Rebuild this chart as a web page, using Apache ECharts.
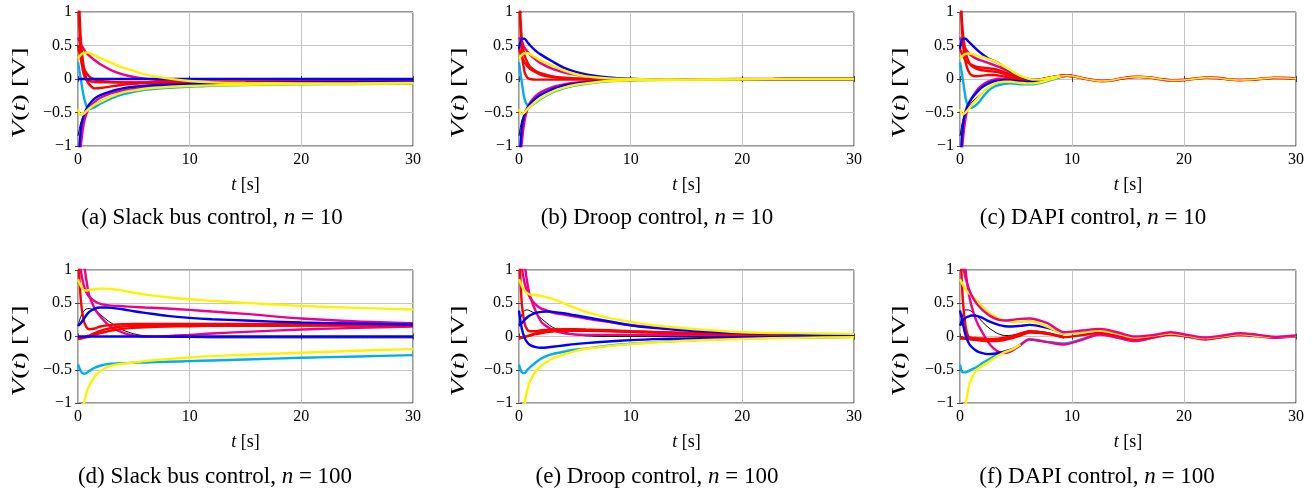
<!DOCTYPE html>
<html><head><meta charset="utf-8">
<script src="https://cdn.jsdelivr.net/npm/echarts@6.0.0/dist/echarts.min.js"></script>
<style>html,body{margin:0;padding:0;background:#fff}#c{width:1313px;height:488px}</style>
</head><body><div id="c"></div>
<script>
// ---------- DATA ----------
const X_TICKS = [0, 10, 20, 30];
const Y_TICKS = [-1, -0.5, 0, 0.5, 1];

// (a) Slack bus control, n = 10
const T_A = [0,0.25,0.5,0.75,1,1.5,2,3,4,5,6,8,10,12,15,20,25,30];
const A_BLUE_FLAT = [0,0,0,0,0,0,0,0,0,0,0,0,0,0,0,0,0,0];
const A_RED_1 = [1.6,0.6,0.2,0.0,-0.08,-0.14,-0.135,-0.11,-0.085,-0.07,-0.06,-0.055,-0.05,-0.048,-0.045,-0.04,-0.035,-0.03];
const A_RED_2 = [1.3,0.35,0.08,-0.01,-0.03,-0.045,-0.05,-0.05,-0.05,-0.05,-0.05,-0.048,-0.045,-0.042,-0.04,-0.035,-0.03,-0.025];
const A_RED_3 = [0.5,0.3,0.17,0.09,0.04,-0.01,-0.03,-0.045,-0.05,-0.05,-0.05,-0.048,-0.045,-0.042,-0.04,-0.035,-0.03,-0.025];
const A_MAG_1 = [0.62,0.52,0.45,0.39,0.35,0.28,0.22,0.13,0.07,0.03,0.005,-0.025,-0.04,-0.05,-0.055,-0.055,-0.05,-0.045];
const A_YEL_1 = [0.31,0.36,0.39,0.395,0.39,0.35,0.31,0.24,0.17,0.12,0.07,0.01,-0.03,-0.05,-0.06,-0.065,-0.065,-0.06];
const A_CYAN = [0.25,0.0,-0.25,-0.4,-0.45,-0.42,-0.37,-0.29,-0.23,-0.19,-0.16,-0.13,-0.115,-0.1,-0.09,-0.08,-0.075,-0.07];
const A_YEL_2 = [-0.45,-0.54,-0.52,-0.48,-0.44,-0.38,-0.34,-0.26,-0.2,-0.17,-0.145,-0.12,-0.105,-0.095,-0.085,-0.075,-0.07,-0.065];
const A_BLACK = [-0.85,-0.65,-0.55,-0.49,-0.45,-0.38,-0.33,-0.26,-0.2,-0.165,-0.14,-0.115,-0.1,-0.09,-0.08,-0.07,-0.065,-0.06];
const A_BLUE_2 = [-1.4,-0.75,-0.55,-0.45,-0.38,-0.29,-0.24,-0.18,-0.14,-0.115,-0.1,-0.085,-0.075,-0.068,-0.06,-0.05,-0.045,-0.04];
const A_MAG_2 = [-1.5,-1.0,-0.68,-0.52,-0.43,-0.34,-0.28,-0.21,-0.175,-0.15,-0.13,-0.11,-0.095,-0.085,-0.075,-0.065,-0.06,-0.055];

// (b) Droop control, n = 10
const T_B = [0,0.25,0.5,0.75,1,1.5,2,3,4,5,6,8,10,12,15,20,25,30];
const B_RED_1 = [1.4,0.4,0.1,0.02,0.0,-0.01,-0.01,-0.01,-0.01,-0.01,-0.01,-0.01,-0.01,-0.01,-0.005,0,0,0];
const B_RED_2 = [1.3,0.6,0.35,0.25,0.18,0.12,0.085,0.04,0.02,0.01,0.0,-0.005,-0.01,-0.01,-0.01,-0.005,0,0];
const B_RED_3 = [0.45,0.33,0.25,0.19,0.15,0.1,0.06,0.03,0.015,0.005,0.0,-0.005,-0.01,-0.01,-0.01,-0.005,0,0];
const B_MAG_1 = [0.62,0.55,0.47,0.41,0.36,0.29,0.23,0.15,0.1,0.065,0.04,0.01,0.0,-0.005,-0.01,-0.005,0,0];
const B_BLUE_1 = [0.45,0.6,0.6,0.55,0.5,0.42,0.36,0.26,0.17,0.11,0.07,0.025,0.005,-0.005,-0.01,-0.005,0,0];
const B_YEL_1 = [0.3,0.36,0.385,0.385,0.37,0.32,0.27,0.2,0.13,0.075,0.04,0.01,0.0,-0.005,-0.01,-0.005,0,0];
const B_CYAN = [0.25,-0.05,-0.3,-0.39,-0.4,-0.35,-0.29,-0.2,-0.14,-0.1,-0.07,-0.035,-0.02,-0.015,-0.01,-0.005,0,0];
const B_YEL_2 = [-0.45,-0.53,-0.5,-0.45,-0.41,-0.34,-0.28,-0.19,-0.13,-0.09,-0.065,-0.03,-0.02,-0.015,-0.01,-0.005,0,0];
const B_BLACK = [-0.85,-0.62,-0.52,-0.46,-0.42,-0.35,-0.29,-0.2,-0.14,-0.1,-0.07,-0.035,-0.02,-0.015,-0.01,-0.005,0,0];
const B_BLUE_2 = [-1.4,-0.72,-0.52,-0.43,-0.37,-0.29,-0.23,-0.15,-0.1,-0.07,-0.05,-0.025,-0.015,-0.01,-0.01,-0.005,0,0];
const B_MAG_2 = [-1.5,-0.95,-0.62,-0.45,-0.35,-0.25,-0.19,-0.12,-0.08,-0.055,-0.04,-0.02,-0.015,-0.01,-0.01,-0.005,0,0];

// (c) DAPI control, n = 10  (individual transients, then common tail)
const T_C = [0,0.25,0.5,0.75,1,1.5,2,2.5,3,3.5,4,4.5,5,5.5,6,6.5,7,7.5,8,8.5,9,9.5,10];
const C_RED_1 = [1.5,0.55,0.25,0.12,0.06,0.04,0.05,0.06,0.06,0.05,0.035,0.015,0.0,-0.015,-0.02,-0.02,-0.01,0.0,0.02,0.035,0.045,0.05,0.045];
const C_RED_2 = [1.3,0.7,0.4,0.27,0.2,0.15,0.13,0.12,0.11,0.1,0.07,0.045,0.02,0.0,-0.015,-0.02,-0.015,0.0,0.02,0.035,0.045,0.05,0.045];
const C_RED_3 = [0.45,0.35,0.28,0.24,0.21,0.18,0.17,0.16,0.15,0.13,0.1,0.07,0.04,0.01,-0.01,-0.015,-0.01,0.005,0.02,0.035,0.045,0.05,0.045];
const C_MAG_1 = [0.62,0.53,0.45,0.39,0.35,0.3,0.27,0.24,0.21,0.18,0.14,0.1,0.06,0.025,0.0,-0.015,-0.01,0.0,0.02,0.035,0.045,0.05,0.045];
const C_BLUE_1 = [0.45,0.6,0.6,0.56,0.52,0.44,0.37,0.31,0.27,0.23,0.17,0.12,0.07,0.03,0.0,-0.015,-0.01,0.0,0.02,0.035,0.045,0.05,0.045];
const C_YEL_1 = [0.3,0.35,0.375,0.38,0.375,0.35,0.33,0.3,0.27,0.23,0.18,0.13,0.08,0.04,0.01,-0.01,-0.01,0.0,0.02,0.035,0.045,0.05,0.045];
const C_CYAN = [0.25,0.0,-0.28,-0.42,-0.43,-0.38,-0.28,-0.18,-0.12,-0.09,-0.07,-0.065,-0.07,-0.08,-0.08,-0.08,-0.065,-0.045,-0.02,0.005,0.03,0.045,0.045];
const C_YEL_2 = [-0.45,-0.53,-0.5,-0.45,-0.4,-0.3,-0.2,-0.13,-0.08,-0.05,-0.04,-0.04,-0.05,-0.06,-0.065,-0.065,-0.055,-0.035,-0.01,0.015,0.035,0.048,0.045];
const C_BLACK = [-0.85,-0.62,-0.5,-0.42,-0.36,-0.27,-0.19,-0.13,-0.085,-0.06,-0.05,-0.05,-0.055,-0.06,-0.065,-0.06,-0.05,-0.03,-0.01,0.015,0.035,0.048,0.045];
const C_BLUE_2 = [-1.4,-0.7,-0.48,-0.37,-0.3,-0.2,-0.12,-0.07,-0.035,-0.02,-0.015,-0.02,-0.03,-0.04,-0.045,-0.045,-0.035,-0.02,0.0,0.02,0.038,0.048,0.045];
const C_MAG_2 = [-1.5,-0.92,-0.58,-0.4,-0.3,-0.17,-0.09,-0.04,-0.01,0.005,0.005,-0.005,-0.02,-0.035,-0.04,-0.04,-0.03,-0.015,0.005,0.025,0.04,0.05,0.045];
const T_C_TAIL = [9,9.5,10,11,12,12.7,13.5,14.5,15.5,16,17,18,19,20,21,22,23,24,25,26,27,28,29,30];
const C_TAIL = [0.045,0.05,0.045,0.01,-0.02,-0.03,-0.02,0.01,0.03,0.032,0.02,-0.005,-0.02,-0.015,0.005,0.02,0.015,-0.005,-0.015,-0.01,0.005,0.018,0.015,0.005];

// (d) Slack bus control, n = 100
const T_D = [0,0.25,0.5,0.75,1,1.5,2,2.5,3,4,5,6,8,10,12,15,20,25,30];
const D_YEL_1 = [0.86,0.76,0.7,0.69,0.7,0.71,0.72,0.72,0.715,0.69,0.66,0.63,0.59,0.56,0.535,0.505,0.46,0.43,0.405];
const D_MAG_1 = [1.5,1.0,0.78,0.66,0.6,0.53,0.49,0.475,0.465,0.455,0.445,0.435,0.42,0.4,0.375,0.34,0.27,0.225,0.2];
const D_MAG_2 = [2.0,1.6,1.15,0.85,0.62,0.42,0.3,0.21,0.14,0.06,0.015,0.0,0.005,0.025,0.045,0.07,0.105,0.13,0.15];
const D_BLACK = [0.16,0.3,0.38,0.415,0.42,0.39,0.33,0.26,0.2,0.1,0.04,0.01,-0.01,-0.015,-0.02,-0.02,-0.02,-0.02,-0.02];
const D_BLUE_1 = [0.16,0.2,0.26,0.32,0.37,0.42,0.435,0.435,0.43,0.41,0.38,0.355,0.31,0.28,0.26,0.24,0.21,0.195,0.18];
const D_RED_1 = [1.3,0.55,0.25,0.14,0.11,0.12,0.15,0.165,0.175,0.185,0.19,0.19,0.19,0.19,0.19,0.19,0.185,0.185,0.18];
const D_RED_2 = [-0.04,-0.03,-0.015,0.0,0.015,0.05,0.085,0.11,0.13,0.15,0.16,0.165,0.17,0.17,0.17,0.17,0.17,0.17,0.17];
const D_RED_3 = [-0.03,-0.025,-0.02,-0.01,0.0,0.025,0.05,0.07,0.09,0.115,0.13,0.14,0.15,0.155,0.16,0.16,0.165,0.165,0.165];
const D_BLUE_FLAT = [0,0,0,0,0,0,0,0,0,0,0,0,0,0,0,0,0,0,0];
const D_CYAN = [-0.42,-0.52,-0.56,-0.55,-0.52,-0.47,-0.44,-0.42,-0.41,-0.4,-0.395,-0.39,-0.38,-0.37,-0.36,-0.345,-0.32,-0.3,-0.28];
const D_YEL_2 = [-2.5,-1.6,-1.05,-0.85,-0.74,-0.6,-0.52,-0.47,-0.44,-0.41,-0.39,-0.37,-0.34,-0.315,-0.295,-0.275,-0.245,-0.215,-0.19];

// (e) Droop control, n = 100
const T_E = [0,0.25,0.5,0.75,1,1.5,2,2.5,3,4,5,6,8,10,12,15,20,25,30];
const E_YEL_1 = [0.86,0.76,0.69,0.65,0.63,0.625,0.61,0.59,0.565,0.5,0.43,0.37,0.28,0.22,0.17,0.12,0.065,0.05,0.04];
const E_MAG_1 = [1.6,1.05,0.8,0.67,0.58,0.48,0.42,0.39,0.36,0.33,0.3,0.27,0.22,0.17,0.14,0.1,0.055,0.035,0.025];
const E_MAG_2 = [2.0,1.5,1.1,0.8,0.6,0.38,0.22,0.15,0.1,0.05,0.03,0.025,0.025,0.025,0.02,0.02,0.015,0.01,0.01];
const E_BLACK = [0.18,0.33,0.39,0.4,0.385,0.34,0.27,0.2,0.14,0.07,0.03,0.01,0.0,0.0,0.0,0.0,0.0,0.0,0.0];
const E_BLUE_1 = [0.16,0.2,0.25,0.29,0.32,0.355,0.37,0.375,0.37,0.35,0.32,0.29,0.23,0.17,0.13,0.09,0.05,0.03,0.02];
const E_BLUE_2 = [0.39,0.12,-0.02,-0.09,-0.13,-0.16,-0.17,-0.165,-0.155,-0.135,-0.115,-0.1,-0.075,-0.055,-0.04,-0.03,-0.015,-0.01,-0.005];
const E_RED_1 = [1.3,0.5,0.2,0.1,0.08,0.08,0.095,0.1,0.105,0.105,0.1,0.095,0.085,0.075,0.065,0.05,0.035,0.025,0.02];
const E_RED_2 = [-0.03,-0.02,-0.01,0.005,0.02,0.045,0.065,0.085,0.1,0.11,0.11,0.105,0.095,0.08,0.07,0.055,0.035,0.025,0.02];
const E_RED_3 = [-0.02,-0.015,-0.005,0.005,0.015,0.035,0.05,0.065,0.075,0.085,0.085,0.085,0.08,0.07,0.06,0.045,0.03,0.02,0.015];
const E_CYAN = [-0.42,-0.54,-0.55,-0.5,-0.46,-0.39,-0.33,-0.29,-0.265,-0.23,-0.2,-0.18,-0.14,-0.11,-0.085,-0.06,-0.03,-0.015,-0.005];
const E_YEL_2 = [-2.5,-1.6,-1.02,-0.8,-0.67,-0.52,-0.44,-0.38,-0.33,-0.27,-0.22,-0.185,-0.145,-0.115,-0.09,-0.065,-0.035,-0.02,-0.01];

// (f) DAPI control, n = 100
const T_F = [0,0.25,0.5,0.75,1,1.5,2,2.5,3,3.5,4,4.7,5.4,6.2,7.8,9.3,10.9,12.5,14.1,15.6,17.2,18.8,20.4,21.9,23.5,25,26.6,28.2,30];
const F_MAG_1 = [1.8,1.1,0.88,0.74,0.63,0.49,0.4,0.33,0.28,0.25,0.24,0.25,0.265,0.27,0.2,0.065,0.09,0.115,0.06,0.0,0.02,0.065,0.02,-0.015,0.015,0.05,0.025,-0.005,0.015];
const F_YEL_1 = [0.86,0.78,0.71,0.66,0.62,0.54,0.45,0.37,0.31,0.27,0.245,0.215,0.22,0.23,0.15,0.045,0.065,0.09,0.04,-0.015,0.015,0.045,0.01,-0.025,0.005,0.035,0.01,-0.005,0.01];
const F_BLUE_1 = [0.16,0.24,0.28,0.3,0.315,0.31,0.28,0.235,0.2,0.17,0.155,0.15,0.16,0.175,0.13,0.045];
const F_BLACK = [0.18,0.33,0.4,0.4,0.38,0.31,0.22,0.14,0.08,0.035,0.015,0.02,0.05,0.085,0.06,-0.02];
const F_RED_1 = [1.5,0.55,0.15,0.0,-0.02,-0.035,-0.04,-0.04,-0.035,-0.03,-0.015,0.01,0.045,0.08,0.05,-0.01,0.02,0.055,0.01,-0.035,-0.005,0.03,0.0,-0.03,-0.005,0.02,0.005,-0.01,0.005];
const F_RED_2 = [-0.02,-0.02,-0.02,-0.02,-0.02,-0.025,-0.03,-0.035,-0.04,-0.04,-0.03,-0.01,0.03,0.07,0.045,-0.01];
const F_RED_3 = [-0.03,-0.03,-0.035,-0.04,-0.045,-0.055,-0.065,-0.07,-0.07,-0.065,-0.05,-0.025,0.015,0.06,0.04,-0.015];
const F_MAG_2 = [2.2,1.5,1.0,0.68,0.48,0.22,0.06,-0.08,-0.18,-0.235,-0.25,-0.21,-0.13,-0.045,-0.085,-0.12,-0.05,0.03,-0.02,-0.07,-0.02,0.03,-0.005,-0.045,-0.005,0.03,0.005,-0.02,0.005];
const F_CYAN = [-0.42,-0.54,-0.54,-0.52,-0.5,-0.46,-0.4,-0.35,-0.3,-0.26,-0.23,-0.19,-0.12,-0.04,-0.08,-0.105,-0.04,0.035,-0.015,-0.065,-0.015,0.035,0.0,-0.04,0.0,0.03,0.005,-0.015,0.005];
const F_YEL_2 = [-2.5,-1.6,-1.05,-0.78,-0.64,-0.5,-0.44,-0.39,-0.33,-0.28,-0.235,-0.19,-0.12];
const F_BLUE_2 = [0.39,0.2,0.02,-0.09,-0.15,-0.22,-0.25,-0.265,-0.26,-0.245,-0.225,-0.19,-0.125];

const CAPTIONS = [
  ['a', 'Slack bus control', '10'], ['b', 'Droop control', '10'], ['c', 'DAPI control', '10'],
  ['d', 'Slack bus control', '100'], ['e', 'Droop control', '100'], ['f', 'DAPI control', '100']
];

// ---------- STYLE / LAYOUT ----------
const FONT = "'Liberation Serif', 'Times New Roman', serif";
const RED = '#ff0000', BLUE = '#0000ff', MAG = '#ec008c', YEL = '#fff200', CYAN = '#00aeef', BLACK = '#000000';
const W = 2.4, WB = 1;
const GRIDS = [
  {left: 78, top: 12, width: 335, height: 134},
  {left: 519, top: 12, width: 335, height: 134},
  {left: 960, top: 12, width: 336, height: 134},
  {left: 78, top: 270, width: 335, height: 133},
  {left: 519, top: 270, width: 335, height: 133},
  {left: 960, top: 270, width: 336, height: 133}
];
const CAP_POS = [[212, 218], [657, 218], [1093, 218], [215, 477], [657, 477], [1097, 477]];
const XLAB_POS = [[245.5, 185], [686.5, 185], [1128, 185], [245.5, 442], [686.5, 442], [1128, 442]];
const YLAB_POS = [[20, 93], [459, 93], [900, 93], [20, 351], [459, 351], [900, 351]];

const PANELS = [
  [[T_A, A_BLACK, BLACK, WB], [T_A, A_CYAN, CYAN, W], [T_A, A_MAG_1, MAG, W], [T_A, A_MAG_2, MAG, W],
   [T_A, A_RED_1, RED, W], [T_A, A_RED_2, RED, W], [T_A, A_RED_3, RED, W],
   [T_A, A_BLUE_2, BLUE, W], [T_A, A_BLUE_FLAT, BLUE, W], [T_A, A_YEL_2, YEL, W], [T_A, A_YEL_1, YEL, W]],
  [[T_B, B_BLACK, BLACK, WB], [T_B, B_CYAN, CYAN, W], [T_B, B_MAG_1, MAG, W], [T_B, B_MAG_2, MAG, W],
   [T_B, B_RED_1, RED, W], [T_B, B_RED_2, RED, W], [T_B, B_RED_3, RED, W],
   [T_B, B_BLUE_1, BLUE, W], [T_B, B_BLUE_2, BLUE, W], [T_B, B_YEL_2, YEL, W], [T_B, B_YEL_1, YEL, W]],
  [[T_C, C_BLACK, BLACK, WB], [T_C, C_CYAN, CYAN, W], [T_C, C_MAG_1, MAG, W], [T_C, C_MAG_2, MAG, W],
   [T_C, C_RED_1, RED, W], [T_C, C_RED_2, RED, W], [T_C, C_RED_3, RED, W],
   [T_C, C_BLUE_1, BLUE, W], [T_C, C_BLUE_2, BLUE, W], [T_C, C_YEL_2, YEL, W], [T_C, C_YEL_1, YEL, W],
   [T_C_TAIL, C_TAIL, MAG, 2.8], [T_C_TAIL, C_TAIL, RED, 2.2], [T_C_TAIL, C_TAIL, YEL, 1.6]],
  [[T_D, D_BLACK, BLACK, WB], [T_D, D_CYAN, CYAN, W], [T_D, D_MAG_1, MAG, W], [T_D, D_MAG_2, MAG, W],
   [T_D, D_RED_1, RED, W], [T_D, D_RED_2, RED, W], [T_D, D_RED_3, RED, W],
   [T_D, D_BLUE_1, BLUE, W], [T_D, D_BLUE_FLAT, BLUE, W], [T_D, D_YEL_2, YEL, W], [T_D, D_YEL_1, YEL, W]],
  [[T_E, E_BLACK, BLACK, WB], [T_E, E_CYAN, CYAN, W], [T_E, E_MAG_1, MAG, W], [T_E, E_MAG_2, MAG, W],
   [T_E, E_RED_1, RED, W], [T_E, E_RED_2, RED, W], [T_E, E_RED_3, RED, W],
   [T_E, E_BLUE_1, BLUE, W], [T_E, E_BLUE_2, BLUE, W], [T_E, E_YEL_2, YEL, W], [T_E, E_YEL_1, YEL, W]],
  [[T_F, F_BLACK, BLACK, WB], [T_F, F_CYAN, CYAN, W], [T_F, F_MAG_2, MAG, W],
   [T_F, F_RED_2, RED, W], [T_F, F_RED_3, RED, W], [T_F, F_RED_1, RED, W],
   [T_F, F_BLUE_1, BLUE, W], [T_F, F_BLUE_2, BLUE, W], [T_F, F_YEL_2, YEL, W], [T_F, F_YEL_1, YEL, W],
   [T_F, F_MAG_1, MAG, W]]
];

// ---------- BUILD ----------
const fmtY = v => (v < 0 ? '\u2212' + Math.abs(v) : String(v));
const grid = [], xAxis = [], yAxis = [], series = [], graphic = [];
GRIDS.forEach((g, i) => {
  grid.push(Object.assign({show: true, borderColor: '#333', borderWidth: 1, backgroundColor: 'transparent', containLabel: false}, g));
  const tick = {show: true, inside: true, length: 3, lineStyle: {color: '#444', width: 1}};
  xAxis.push({gridIndex: i, type: 'value', min: X_TICKS[0], max: X_TICKS[X_TICKS.length - 1], interval: X_TICKS[1] - X_TICKS[0],
    axisLine: {show: false}, axisTick: tick,
    axisLabel: {fontSize: 16, fontFamily: FONT, color: '#000', margin: 6, showMinLabel: true, showMaxLabel: true},
    splitLine: {show: true, lineStyle: {color: '#c4c4c4', width: 1}}});
  xAxis.push({gridIndex: i, type: 'value', position: 'top', min: X_TICKS[0], max: X_TICKS[X_TICKS.length - 1], interval: X_TICKS[1] - X_TICKS[0],
    axisLine: {show: false}, axisTick: tick, axisLabel: {show: false}, splitLine: {show: false}});
  yAxis.push({gridIndex: i, type: 'value', min: Y_TICKS[0], max: Y_TICKS[Y_TICKS.length - 1], interval: Y_TICKS[1] - Y_TICKS[0],
    axisLine: {show: false}, axisTick: tick,
    axisLabel: {fontSize: 16, fontFamily: FONT, color: '#000', margin: 6, formatter: fmtY, showMinLabel: true, showMaxLabel: true},
    splitLine: {show: true, lineStyle: {color: '#c4c4c4', width: 1}}});
  yAxis.push({gridIndex: i, type: 'value', position: 'right', min: Y_TICKS[0], max: Y_TICKS[Y_TICKS.length - 1], interval: Y_TICKS[1] - Y_TICKS[0],
    axisLine: {show: false}, axisTick: tick, axisLabel: {show: false}, splitLine: {show: false}});

  PANELS[i].forEach(([T, vals, color, w]) => {
    const data = [];
    for (let k = 0; k < vals.length; k++) if (vals[k] !== null) data.push([T[k], vals[k]]);
    series.push({type: 'line', xAxisIndex: 2 * i, yAxisIndex: 2 * i, data, showSymbol: false, symbol: 'none',
      smooth: 0.3, clip: true, silent: true, animation: false,
      lineStyle: {color, width: w}, itemStyle: {color}, emphasis: {disabled: true}});
  });
});

function txt(x, y, text, size, rot, sx) {
  return {type: 'text', x, y, rotation: rot || 0, scaleX: sx || 1, silent: true, z: 100,
    style: {text, fontSize: size, fontFamily: FONT, fill: '#000', align: 'center', verticalAlign: 'middle',
      rich: {i: {fontStyle: 'italic', fontSize: size, fontFamily: FONT, fill: '#000'}}}};
}
CAPTIONS.forEach((c, i) => {
  graphic.push(txt(CAP_POS[i][0], CAP_POS[i][1], '(' + c[0] + ') ' + c[1] + ', {i|n} = ' + c[2], 23));
  graphic.push(txt(XLAB_POS[i][0], XLAB_POS[i][1], '{i|t} [s]', 18));
  graphic.push(txt(YLAB_POS[i][0], YLAB_POS[i][1], '{i|V}({i|t}) [V]', 19, Math.PI / 2, 1.5));
});

const chart = echarts.init(document.getElementById('c'), null, {renderer: 'canvas'});
chart.setOption({animation: false, backgroundColor: '#fff', grid, xAxis, yAxis, series, graphic});
</script></body></html>
